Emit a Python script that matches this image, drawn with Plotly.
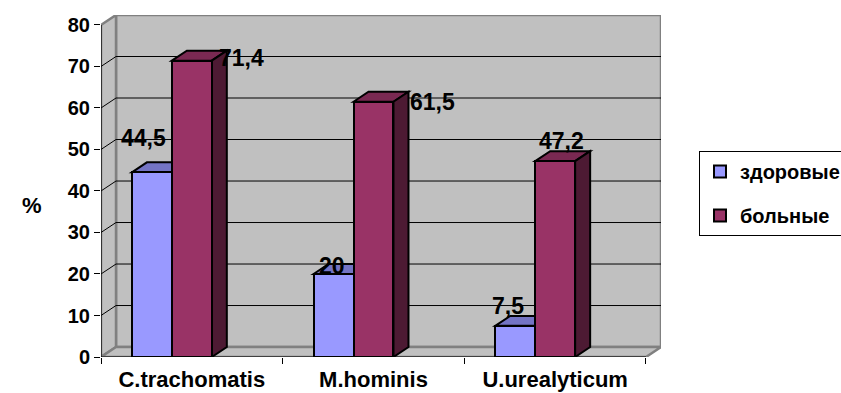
import plotly.graph_objects as go

# Survey data: share of positive findings, %
categories = ["C.trachomatis", "M.hominis", "U.urealyticum"]
healthy = [44.5, 20, 7.5]        # здоровые
patients = [71.4, 61.5, 47.2]    # больные
series_names = ["здоровые", "больные"]
y_ticks = [0, 10, 20, 30, 40, 50, 60, 70, 80]

# Style and geometry of the pseudo-3D box
FONT = "Liberation Sans"
WALL = "#c0c0c0"
WALL_EDGE = "#808080"
BLUE, BLUE_TOP = "#9999ff", "#7474c4"
RED, RED_TOP, RED_SIDE = "#993366", "#7a2952", "#4d1a33"
BAR_W = 0.22          # bar width in category units
DX, DY = 0.0826, 2.4  # depth offset of the back wall (x units, y units)
Y_MAX = 80
N = len(categories)

blue_x = [i + 0.5 - BAR_W for i in range(N)]
red_x = [i + 0.5 for i in range(N)]

# label offsets in pixels (xshift, yshift) for each value label
healthy_label_shift = [(-8, 34), (-2, 8), (-7, 20)]
patients_label_shift = [(50, 3), (59, 0), (6, 20)]


def bold_font(size):
    return dict(family=FONT, size=size, color="black", weight="bold")


fig = go.Figure()
fig.add_trace(go.Bar(
    x=blue_x, y=healthy, width=BAR_W, name=series_names[0],
    marker=dict(color=BLUE, line=dict(color="black", width=2)),
    legendgroup="a", hoverinfo="skip",
))
fig.add_trace(go.Bar(
    x=red_x, y=patients, width=BAR_W, name=series_names[1],
    marker=dict(color=RED, line=dict(color="black", width=2)),
    legendgroup="b", hoverinfo="skip",
))


def poly(pts):
    return "M " + " L ".join(f"{x},{y}" for x, y in pts) + " Z"


shapes = []
# back wall, side wall, floor
shapes.append(dict(type="path", layer="below", xref="x", yref="y",
                   path=poly([(DX, DY), (N + DX, DY), (N + DX, Y_MAX + DY), (DX, Y_MAX + DY)]),
                   fillcolor=WALL, line=dict(color=WALL_EDGE, width=2.5)))
shapes.append(dict(type="path", layer="below", xref="x", yref="y",
                   path=poly([(0, 0), (DX, DY), (DX, Y_MAX + DY), (0, Y_MAX)]),
                   fillcolor=WALL, line=dict(color=WALL_EDGE, width=2.5)))
shapes.append(dict(type="path", layer="below", xref="x", yref="y",
                   path=poly([(0, 0), (DX, DY), (N + DX, DY), (N, 0)]),
                   fillcolor=WALL, line=dict(color=WALL_EDGE, width=2.5)))
# gridlines on the back wall and their diagonals on the side wall
for v in y_ticks[1:-1]:
    shapes.append(dict(type="line", layer="below", xref="x", yref="y",
                       x0=DX, x1=N + DX, y0=v + DY, y1=v + DY,
                       line=dict(color="black", width=1)))
    shapes.append(dict(type="line", layer="below", xref="x", yref="y",
                       x0=0, x1=DX, y0=v, y1=v + DY,
                       line=dict(color="black", width=1)))
# front axis lines
shapes.append(dict(type="line", layer="below", xref="x", yref="y",
                   x0=0, x1=0, y0=0, y1=Y_MAX, line=dict(color="black", width=1.2)))
shapes.append(dict(type="line", layer="below", xref="x", yref="y",
                   x0=0, x1=N, y0=0, y1=0, line=dict(color="black", width=1.2)))


def bar_faces(xc, v, top, side):
    x0, x1 = xc - BAR_W / 2, xc + BAR_W / 2
    out = [dict(type="path", layer="below", xref="x", yref="y",
                path=poly([(x0, v), (x0 + DX, v + DY), (x1 + DX, v + DY), (x1, v)]),
                fillcolor=top, line=dict(color="black", width=2))]
    out.append(dict(type="path", layer="below", xref="x", yref="y",
                    path=poly([(x1, 0), (x1 + DX, DY), (x1 + DX, v + DY), (x1, v)]),
                    fillcolor=side, line=dict(color="black", width=2)))
    return out


for xc, v in zip(blue_x, healthy):
    shapes += bar_faces(xc, v, BLUE_TOP, BLUE_TOP)
for xc, v in zip(red_x, patients):
    shapes += bar_faces(xc, v, RED_TOP, RED_SIDE)


def fmt(v):
    return (f"{v:g}").replace(".", ",")


annotations = []
for xs, vals, shifts in ((blue_x, healthy, healthy_label_shift),
                         (red_x, patients, patients_label_shift)):
    for xc, v, (sx, sy) in zip(xs, vals, shifts):
        annotations.append(dict(
            x=xc, y=v, xref="x", yref="y", text=fmt(v), showarrow=False,
            xanchor="center", yanchor="middle", xshift=sx, yshift=sy,
            font=bold_font(23),
        ))
# axis caption
annotations.append(dict(
    x=(32 - 101) / 560, y=(357 - 205) / 342, xref="paper", yref="paper",
    text="%", showarrow=False, xanchor="center", yanchor="middle",
    font=bold_font(22),
))

fig.update_layout(
    width=841, height=393,
    margin=dict(l=101, r=180, t=15, b=36, autoexpand=False),
    paper_bgcolor="white", plot_bgcolor="white",
    barmode="overlay", bargap=0,
    shapes=shapes, annotations=annotations,
    font=dict(family=FONT, color="black"),
    showlegend=True,
    legend=dict(
        x=1 + (699 - 661) / 560, y=(357 - 151) / 342, xanchor="left", yanchor="top",
        xref="paper", yref="paper",
        bgcolor="white", bordercolor="black", borderwidth=1,
        font=bold_font(20),
        tracegroupgap=15, traceorder="grouped",
    ),
    xaxis=dict(
        range=[0, N + DX], showgrid=False, zeroline=False, showline=False,
        tickmode="array", tickvals=[i + 0.5 for i in range(N)],
        ticktext=categories,
        ticks="", tickfont=bold_font(22),
        ticklabelstandoff=7,
        minor=dict(tickmode="array", tickvals=list(range(N + 1)), ticks="outside",
                   ticklen=6, tickcolor="black", tickwidth=1),
        fixedrange=True,
    ),
    yaxis=dict(
        range=[0, Y_MAX + DY], showgrid=False, zeroline=False, showline=False,
        tickmode="array", tickvals=y_ticks,
        ticks="outside", ticklen=6, tickcolor="black", tickwidth=1,
        tickfont=bold_font(20),
        fixedrange=True,
    ),
)

fig.write_html("out.html", config={"displayModeBar": False})
